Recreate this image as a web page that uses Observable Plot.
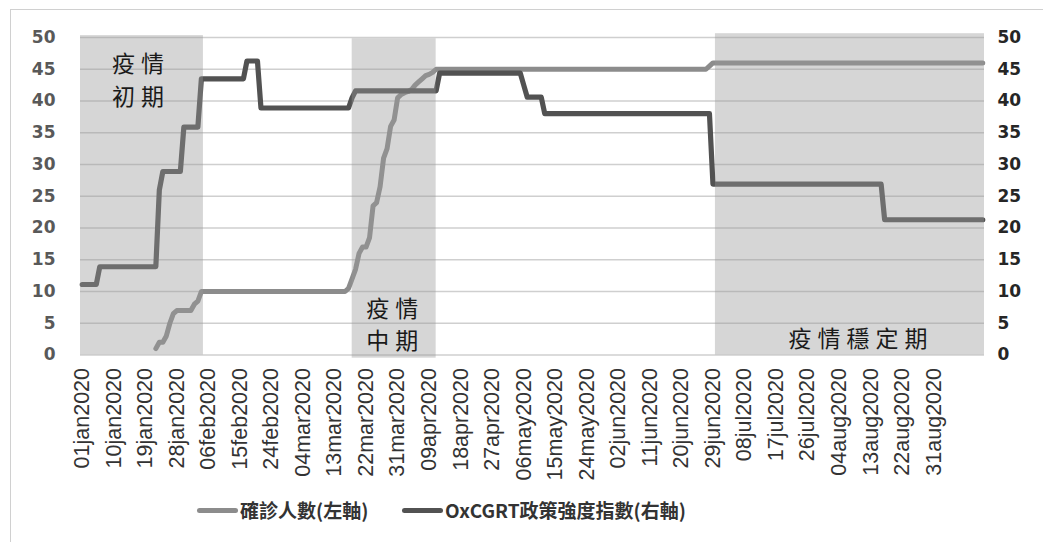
<!DOCTYPE html>
<html>
<head>
<meta charset="utf-8">
<script src="https://cdn.jsdelivr.net/npm/d3@7"></script>
<script src="https://cdn.jsdelivr.net/npm/@observablehq/plot@0.6"></script>
<style>
  html, body { margin: 0; padding: 0; background: #fff; }
  #wrap { position: relative; width: 1043px; height: 542px; overflow: hidden; }
  #frameL { position: absolute; left: 10px; top: 9px; width: 1px; height: 540px; background: #d0d0d0; }
  #frameT { position: absolute; left: 10px; top: 9px; width: 1040px; height: 1px; background: #d0d0d0; }
  g[aria-label="text"] text { letter-spacing: 6px; }
  #legend { position: relative; height: 30px; margin-top: 23px; font-family: "Noto Sans CJK TC", "Noto Sans", sans-serif; font-weight: bold; font-size: 19px; color: #333; }
  #legend .sw { position: absolute; top: 13px; width: 41px; height: 5px; border-radius: 2.5px; }
  #legend .lb { position: absolute; top: 0; line-height: 30px; white-space: nowrap; }
</style>
</head>
<body>
<div id="wrap">
  <div id="chart"></div>
  <div id="legend"></div>
  <div id="frameL"></div>
  <div id="frameT"></div>
</div>
<script>
// ---- data ----
const seriesNames = ["確診人數(左軸)", "OxCGRT政策強度指數(右軸)"];

const casesDates = ["2020-01-22","2020-01-23","2020-01-24","2020-01-25","2020-01-26","2020-01-27","2020-01-28",
  "2020-02-01","2020-02-02","2020-02-03","2020-02-04","2020-03-16","2020-03-17","2020-03-18","2020-03-19",
  "2020-03-20","2020-03-21","2020-03-22","2020-03-23","2020-03-24","2020-03-25","2020-03-26","2020-03-27",
  "2020-03-28","2020-03-29","2020-03-30","2020-03-31","2020-04-01","2020-04-02","2020-04-03","2020-04-04",
  "2020-04-05","2020-04-06","2020-04-07","2020-04-08","2020-04-09","2020-04-10","2020-04-11","2020-06-27",
  "2020-06-28","2020-06-29","2020-09-14"];
const casesValues = [1,2,2,3,5,6.5,7,
  7,8,8.5,10,10,10.5,12,13.5,
  16,17,17,18.5,23.5,24,26.5,31,
  32.5,36,37,40.5,41,41.3,41.5,41.8,
  42.5,43,43.5,44,44.2,44.5,45,45,
  45.5,46,46];

const policyDates = ["2020-01-01","2020-01-05","2020-01-06","2020-01-22","2020-01-23","2020-01-24","2020-01-29",
  "2020-01-30","2020-02-03","2020-02-04","2020-02-16","2020-02-17","2020-02-20","2020-02-21","2020-03-17",
  "2020-03-18","2020-03-19","2020-04-11","2020-04-12","2020-05-05","2020-05-06","2020-05-07","2020-05-11",
  "2020-05-12","2020-06-28","2020-06-29","2020-08-16","2020-08-17","2020-09-14"];
const policyValues = [11.1,11.1,13.9,13.9,26,28.9,28.9,
  35.9,35.9,43.5,43.5,46.3,46.3,38.9,38.9,
  40.5,41.6,41.6,44.4,44.4,42.5,40.6,40.6,
  38.0,38.0,26.9,26.9,21.3,21.3];

const periodLabels = ["疫情\n初期", "疫情\n中期", "疫情穩定期"];
const periodStarts = ["2019-12-31T12:00Z", "2020-03-18T01:00Z", "2020-06-29T17:00Z"];
const periodEnds   = ["2020-02-04T14:00Z", "2020-04-11T00:00Z", "2020-09-14T12:00Z"];
const periodTops   = [50.3, 49.8, 50.6];
const periodBottoms= [0, -0.5, 0];
const periodLabelY = [43.6, 5.1, 2.9];
const periodLabelDx= [-4, -2, 8];

const yTicks = [0,5,10,15,20,25,30,35,40,45,50];
const xTickLabels = ["01jan2020","10jan2020","19jan2020","28jan2020","06feb2020","15feb2020","24feb2020",
  "04mar2020","13mar2020","22mar2020","31mar2020","09apr2020","18apr2020","27apr2020","06may2020",
  "15may2020","24may2020","02jun2020","11jun2020","20jun2020","29jun2020","08jul2020","17jul2020",
  "26jul2020","04aug2020","13aug2020","22aug2020","31aug2020"];
const xDomain = ["2019-12-31T12:00Z", "2020-09-14T12:00Z"];

// ---- build tables ----
const parseTick = d3.utcParse("%d%b%Y");
const fmtTick = d3.utcFormat("%d%b%Y");
const cases = casesDates.map((d, i) => ({date: new Date(d), value: casesValues[i]}));
const policy = policyDates.map((d, i) => ({date: new Date(d), value: policyValues[i]}));
const periods = periodLabels.map((l, i) => ({
  label: l, start: new Date(periodStarts[i]), end: new Date(periodEnds[i]),
  top: periodTops[i], bottom: periodBottoms[i], ly: periodLabelY[i], dx: periodLabelDx[i]
}));
const xTicks = xTickLabels.map(parseTick);

const chart = Plot.plot({
  width: 1043,
  height: 472,
  marginLeft: 80,
  marginRight: 59,
  marginTop: 37,
  marginBottom: 117.5,
  style: {fontFamily: "'Liberation Sans', Arial, sans-serif", background: "transparent", overflow: "visible"},
  x: {type: "utc", domain: xDomain.map(d => new Date(d))},
  y: {domain: [0, 50]},
  marks: [
    Plot.ruleY(yTicks, {x1: new Date(xDomain[0]), x2: new Date(xDomain[1]), stroke: "#cfcfcf", strokeWidth: 1.6}),
    Plot.line(cases, {x: "date", y: "value", stroke: "#8c8c8c", strokeWidth: 5, strokeLinejoin: "round", strokeLinecap: "round"}),
    Plot.line(policy, {x: "date", y: "value", stroke: "#525252", strokeWidth: 5.2, strokeLinejoin: "round", strokeLinecap: "round"}),
    Plot.rect(periods, {x1: "start", x2: "end", y1: "bottom", y2: "top", fill: "#989898", fillOpacity: 0.4}),
    ...periods.map(p => Plot.text([p], {
      x: d => new Date((+d.start + +d.end) / 2), y: "ly", text: "label",
      dx: p.dx + 3, fontSize: 23, lineHeight: 1.4, fill: "#1a1a1a",
      fontFamily: "'Noto Sans CJK TC', sans-serif"
    })),
    Plot.axisX({ticks: xTicks, tickFormat: d => fmtTick(d).toLowerCase(), tickRotate: -90, tickSize: 0, tickPadding: 13,
      fontSize: 21.5, fill: "#333", label: null}),
    Plot.axisY({anchor: "left", ticks: yTicks, tickSize: 0, tickPadding: 25, fontSize: 17, fontWeight: "bold",
      fontFamily: "'DejaVu Sans', sans-serif", fill: "#595959", label: null}),
    Plot.axisY({anchor: "right", ticks: yTicks, tickSize: 0, tickPadding: 13, fontSize: 17, fontWeight: "bold",
      fontFamily: "'DejaVu Sans', sans-serif", fill: "#262626", label: null})
  ]
});
document.getElementById("chart").appendChild(chart);

// ---- legend ----
const legend = document.getElementById("legend");
const swatchColors = ["#8c8c8c", "#525252"];
const swatchLeft = [197, 402];
seriesNames.forEach((name, i) => {
  const sw = document.createElement("span");
  sw.className = "sw";
  sw.style.left = swatchLeft[i] + "px";
  sw.style.background = swatchColors[i];
  legend.appendChild(sw);
  const lb = document.createElement("span");
  lb.className = "lb";
  lb.style.left = (swatchLeft[i] + 43) + "px";
  lb.textContent = name;
  legend.appendChild(lb);
});
</script>
</body>
</html>
